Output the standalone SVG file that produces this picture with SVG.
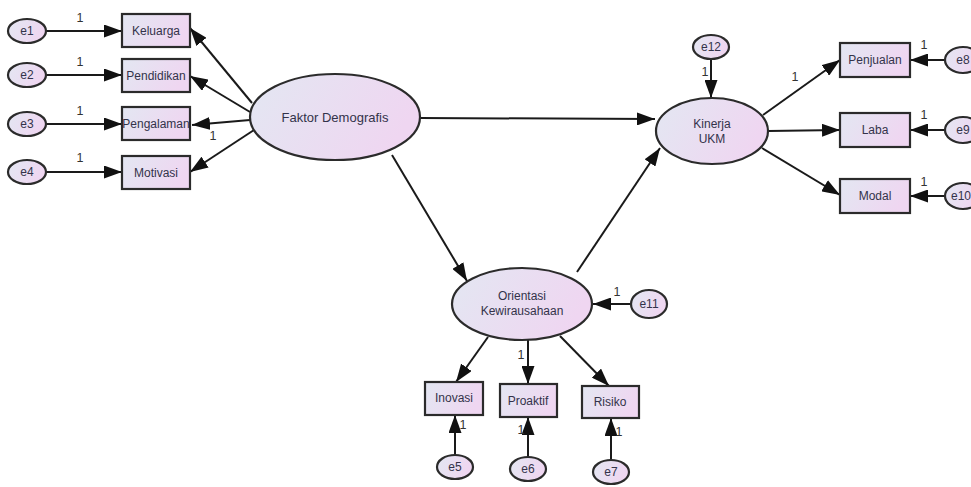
<svg xmlns="http://www.w3.org/2000/svg" width="971" height="487" viewBox="0 0 971 487">
<defs>
<linearGradient id="g" x1="0" y1="0" x2="1" y2="0.3">
<stop offset="0" stop-color="#e3e7f2"/>
<stop offset="1" stop-color="#efd6f1"/>
</linearGradient>
<marker id="ah" viewBox="0 0 18 13" refX="18" refY="6.5" markerWidth="18" markerHeight="13" markerUnits="userSpaceOnUse" orient="auto">
<path d="M0,0 L18,6.5 L0,13 Z" fill="#111"/>
</marker>
<style>
.n{fill:url(#g);stroke:#2b2b2b;stroke-width:2.2}
.t{font-family:"Liberation Sans",Arial,sans-serif;font-size:12px;fill:#33334a;text-anchor:middle;dominant-baseline:central}
.b{font-size:13px}
.one{font-family:"Liberation Sans",Arial,sans-serif;font-size:12.5px;fill:#333;text-anchor:middle}
.c line{stroke:#1a1a1a;stroke-width:2;marker-end:url(#ah)}
</style>
</defs>
<rect width="971" height="487" fill="#fff"/>
<g class="c" id="connectors">
<line x1="46" y1="31" x2="122" y2="31"/>
<line x1="46" y1="75" x2="122" y2="75"/>
<line x1="46" y1="124" x2="122" y2="124"/>
<line x1="46" y1="172" x2="122" y2="172"/>
<line x1="252" y1="103" x2="190" y2="28"/>
<line x1="250" y1="112" x2="190" y2="76"/>
<line x1="250" y1="120" x2="192" y2="125"/>
<line x1="254" y1="130" x2="190" y2="172"/>
<line x1="420" y1="118" x2="655" y2="119"/>
<line x1="392" y1="155" x2="467" y2="281"/>
<line x1="577" y1="272" x2="660" y2="148"/>
<line x1="711" y1="59" x2="711" y2="98"/>
<line x1="763" y1="115" x2="840" y2="60"/>
<line x1="768" y1="131" x2="840" y2="130"/>
<line x1="762" y1="148" x2="840" y2="195"/>
<line x1="945" y1="60" x2="910" y2="60"/>
<line x1="945" y1="130" x2="910" y2="130"/>
<line x1="945" y1="196" x2="910" y2="196"/>
<line x1="631" y1="304" x2="593" y2="304"/>
<line x1="488" y1="337" x2="456" y2="382"/>
<line x1="528" y1="340" x2="528" y2="384"/>
<line x1="560" y1="336" x2="609" y2="386"/>
<line x1="455" y1="455" x2="455" y2="415"/>
<line x1="528" y1="457" x2="528" y2="417"/>
<line x1="611" y1="460" x2="611" y2="418"/>
</g>
<g id="labels1">
<text class="one" x="80" y="22">1</text>
<text class="one" x="80" y="66">1</text>
<text class="one" x="80" y="115">1</text>
<text class="one" x="80" y="162">1</text>
<text class="one" x="213" y="140">1</text>
<text class="one" x="705" y="76">1</text>
<text class="one" x="795" y="81">1</text>
<text class="one" x="924" y="49">1</text>
<text class="one" x="924" y="119">1</text>
<text class="one" x="924" y="186">1</text>
<text class="one" x="617" y="296">1</text>
<text class="one" x="521" y="359">1</text>
<text class="one" x="463" y="429">1</text>
<text class="one" x="521" y="434">1</text>
<text class="one" x="619" y="436">1</text>
</g>
<g id="e1"><ellipse class="n" cx="27" cy="31" rx="19" ry="12"/><text class="t" x="27" y="31">e1</text></g>
<g id="e2"><ellipse class="n" cx="27" cy="75" rx="19" ry="12"/><text class="t" x="27" y="75">e2</text></g>
<g id="e3"><ellipse class="n" cx="27" cy="124" rx="19" ry="12"/><text class="t" x="27" y="124">e3</text></g>
<g id="e4"><ellipse class="n" cx="27" cy="172" rx="19" ry="12"/><text class="t" x="27" y="172">e4</text></g>
<g id="keluarga"><rect class="n" x="122" y="14" width="68" height="33"/><text class="t" x="156" y="31">Keluarga</text></g>
<g id="pendidikan"><rect class="n" x="122" y="59" width="68" height="33"/><text class="t" x="156" y="76">Pendidikan</text></g>
<g id="pengalaman"><rect class="n" x="122" y="107" width="68" height="33"/><text class="t" x="156" y="124">Pengalaman</text></g>
<g id="motivasi"><rect class="n" x="122" y="156" width="68" height="33"/><text class="t" x="156" y="173">Motivasi</text></g>
<g id="faktor"><ellipse class="n" cx="335" cy="117" rx="85" ry="43"/><text class="t b" x="335" y="117">Faktor Demografis</text></g>
<g id="kinerja"><ellipse class="n" cx="712" cy="131" rx="56" ry="33"/><text class="t" x="712" y="124">Kinerja</text><text class="t" x="712" y="139">UKM</text></g>
<g id="e12"><ellipse class="n" cx="711" cy="47" rx="18" ry="12"/><text class="t" x="711" y="47">e12</text></g>
<g id="penjualan"><rect class="n" x="840" y="43" width="70" height="34"/><text class="t" x="875" y="60">Penjualan</text></g>
<g id="laba"><rect class="n" x="840" y="113" width="70" height="34"/><text class="t" x="875" y="130">Laba</text></g>
<g id="modal"><rect class="n" x="840" y="179" width="70" height="34"/><text class="t" x="875" y="196">Modal</text></g>
<g id="e8"><ellipse class="n" cx="963" cy="60" rx="18" ry="13"/><text class="t" x="963" y="60">e8</text></g>
<g id="e9"><ellipse class="n" cx="963" cy="130" rx="18" ry="13"/><text class="t" x="963" y="130">e9</text></g>
<g id="e10"><ellipse class="n" cx="963" cy="196" rx="18" ry="13"/><text class="t" x="961" y="196">e10</text></g>
<g id="orientasi"><ellipse class="n" cx="522" cy="304" rx="70" ry="36"/><text class="t" x="522" y="296">Orientasi</text><text class="t" x="522" y="311">Kewirausahaan</text></g>
<g id="e11"><ellipse class="n" cx="649" cy="304" rx="18" ry="14"/><text class="t" x="649" y="304">e11</text></g>
<g id="inovasi"><rect class="n" x="425" y="382" width="58" height="33"/><text class="t" x="454" y="398">Inovasi</text></g>
<g id="proaktif"><rect class="n" x="500" y="384" width="57" height="33"/><text class="t" x="528" y="401">Proaktif</text></g>
<g id="risiko"><rect class="n" x="582" y="386" width="57" height="32"/><text class="t" x="610" y="402">Risiko</text></g>
<g id="e5"><ellipse class="n" cx="455" cy="467" rx="18" ry="12"/><text class="t" x="455" y="467">e5</text></g>
<g id="e6"><ellipse class="n" cx="528" cy="469" rx="18" ry="12"/><text class="t" x="528" y="469">e6</text></g>
<g id="e7"><ellipse class="n" cx="611" cy="472" rx="18" ry="12"/><text class="t" x="611" y="472">e7</text></g>
</svg>
